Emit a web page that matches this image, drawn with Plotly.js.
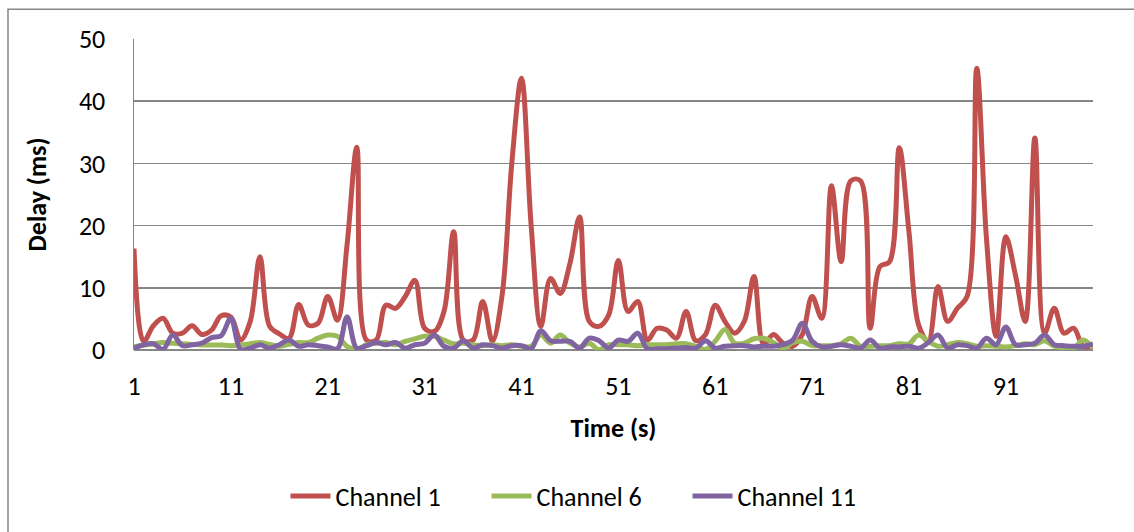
<!DOCTYPE html>
<html>
<head>
<meta charset="utf-8">
<script src="https://cdn.plot.ly/plotly-3.0.1.min.js"></script>
<style>
  html, body { margin: 0; padding: 0; background: #ffffff; }
  #chart { width: 1134px; height: 532px; }
</style>
</head>
<body>
<div id="chart"></div>
<script>
const channel1 = [
  16.3, 1.4, 3.9, 5.1, 2.7, 2.7, 3.9, 2.5, 3.2, 5.5,
  5.3, 1.6, 4.6, 15.0, 3.8, 2.6, 1.9, 7.3, 4.0, 4.3,
  8.6, 4.8, 17.0, 32.6, 1.6, 1.6, 7.2, 6.7, 8.6, 11.2,
  3.5, 3.0, 6.2, 19.0, 1.6, 1.6, 7.8, 1.4, 8.8, 30.0,
  43.7, 20.0, 3.8, 11.5, 9.1, 13.9, 21.4, 4.6, 3.8, 5.6,
  14.4, 6.2, 7.8, 1.6, 3.5, 3.2, 1.9, 6.2, 1.5, 2.5,
  7.2, 4.6, 2.7, 4.6, 11.8, 0.9, 2.5, 1.1, 0.6, 2.5,
  8.6, 5.1, 26.4, 14.2, 27.2, 27.2, 3.5, 13.4, 14.2, 32.5,
  19.0, 4.0, 1.4, 10.2, 4.6, 6.7, 8.6, 45.3, 18.0, 2.2,
  18.2, 12.0, 4.6, 34.1, 2.7, 6.7, 2.7, 3.5, 0.6, 0.6
];
const channel6 = [
  0.5, 0.8, 1.0, 1.2, 1.1, 1.0, 0.9, 0.8, 0.8, 0.8,
  0.7, 0.8, 1.0, 1.2, 0.9, 0.6, 0.9, 1.2, 1.2, 1.9,
  2.4, 2.2, 0.6, 0.1, 0.85, 1.1, 1.2, 0.85, 1.4, 1.8,
  2.2, 2.2, 1.6, 1.0, 1.1, 0.85, 0.7, 0.85, 0.7, 0.85,
  0.6, 0.6, 2.4, 1.1, 2.4, 1.1, 0.5, 1.1, 0.05, 0.85,
  0.85, 0.85, 0.7, 0.85, 0.85, 0.85, 1.0, 1.0, 0.6, 0.1,
  1.4, 3.3, 1.1, 1.1, 1.8, 1.9, 1.2, 0.3, 1.2, 1.4,
  0.7, 0.7, 0.7, 1.0, 1.9, 0.6, 0.6, 0.7, 0.7, 1.0,
  1.0, 2.4, 1.4, 0.6, 0.85, 1.2, 1.0, 0.6, 0.7, 0.6,
  0.5, 0.7, 1.0, 0.85, 1.5, 0.6, 0.3, 0.3, 1.6, 0.3
];
const channel11 = [
  0.3, 0.85, 1.0, 0.1, 2.4, 0.7, 0.85, 1.1, 2.0, 2.3,
  5.1, 0.1, 0.3, 0.85, 0.3, 0.85, 1.6, 0.6, 0.85, 0.7,
  0.5, 0.2, 5.3, 0.3, 0.7, 1.2, 0.85, 1.2, 0.3, 0.85,
  1.1, 2.4, 0.6, 0.3, 1.5, 0.3, 0.85, 0.7, 0.3, 0.7,
  0.7, 0.2, 3.1, 1.5, 1.4, 1.4, 0.3, 1.9, 1.5, 0.3,
  1.6, 1.4, 2.7, 0.2, 0.2, 0.2, 0.3, 0.4, 0.3, 1.5,
  0.3, 0.6, 0.7, 0.7, 0.5, 0.6, 0.6, 0.85, 1.6, 4.3,
  1.4, 0.5, 0.6, 0.85, 0.6, 0.3, 1.6, 0.3, 0.5, 0.5,
  0.6, 0.3, 1.2, 2.4, 0.3, 0.85, 0.7, 0.3, 1.9, 0.85,
  3.7, 0.85, 0.85, 1.1, 2.4, 0.85, 0.7, 0.6, 0.6, 1.0
];
const seriesNames = ["Channel 1", "Channel 6", "Channel 11"];
const tickValues = [1, 11, 21, 31, 41, 51, 61, 71, 81, 91];
const tickLabels = ["1", "11", "21", "31", "41", "51", "61", "71", "81", "91"];
const yTicks = [0, 10, 20, 30, 40, 50];
const xTitle = "Time (s)";
const yTitle = "Delay (ms)";

const time = channel1.map((_, i) => i + 1);
const colors = ["#C0504D", "#9BBB59", "#8064A2"];
const FONT = "Carlito, 'Liberation Sans Narrow', 'DejaVu Sans Condensed', 'Liberation Sans', sans-serif";
const FS = 26;

const traces = [channel1, channel6, channel11].map((ys, k) => ({
  type: "scatter",
  mode: "lines",
  x: time,
  y: ys,
  name: seriesNames[k],
  line: { color: colors[k], width: 5, shape: "spline", smoothing: 1 },
  hoverinfo: "x+y+name"
}));

const layout = {
  width: 1134,
  height: 532,
  margin: { l: 134, r: 41, t: 39, b: 180, pad: 0 },
  paper_bgcolor: "#ffffff",
  plot_bgcolor: "#ffffff",
  font: { family: FONT, size: FS, color: "#000000" },
  showlegend: true,
  legend: {
    orientation: "h",
    x: 0.158, xanchor: "left",
    y: -0.47, yanchor: "middle",
    font: { family: FONT, size: FS, color: "#000000" },
    traceorder: "normal",
    itemwidth: 40,
    entrywidth: 146,
    entrywidthmode: "pixels"
  },
  xaxis: {
    type: "linear",
    range: [1, 100],
    tickmode: "array",
    tickvals: tickValues,
    ticktext: tickLabels,
    showgrid: false,
    zeroline: false,
    showline: false,
    ticks: "",
    ticklabelstandoff: 18,
    tickfont: { family: FONT, size: FS, color: "#000000" },
    title: { text: xTitle, font: { family: FONT, size: FS, color: "#000000", weight: "bold" }, standoff: 17 },
    automargin: false,
    fixedrange: true
  },
  yaxis: {
    range: [0, 50],
    tickmode: "array",
    tickvals: yTicks,
    showgrid: true,
    gridcolor: "#868686",
    gridwidth: 1.5,
    zeroline: true,
    zerolinecolor: "#868686",
    zerolinewidth: 1.5,
    showline: true,
    linecolor: "#868686",
    linewidth: 1.5,
    ticks: "",
    ticklabelstandoff: 22,
    tickfont: { family: FONT, size: FS, color: "#000000" },
    title: { text: yTitle, font: { family: FONT, size: FS, color: "#000000", weight: "bold" }, standoff: 25 },
    automargin: false,
    fixedrange: true
  },
  shapes: [{
    type: "rect", xref: "paper", yref: "paper",
    x0: -0.1314, x1: 1.2, y0: -0.7, y1: 1.0958,
    line: { color: "#868686", width: 1.5 },
    fillcolor: "rgba(0,0,0,0)",
    layer: "below"
  }]
};

Plotly.newPlot("chart", traces, layout, { displayModeBar: false, staticPlot: true });
</script>
</body>
</html>
